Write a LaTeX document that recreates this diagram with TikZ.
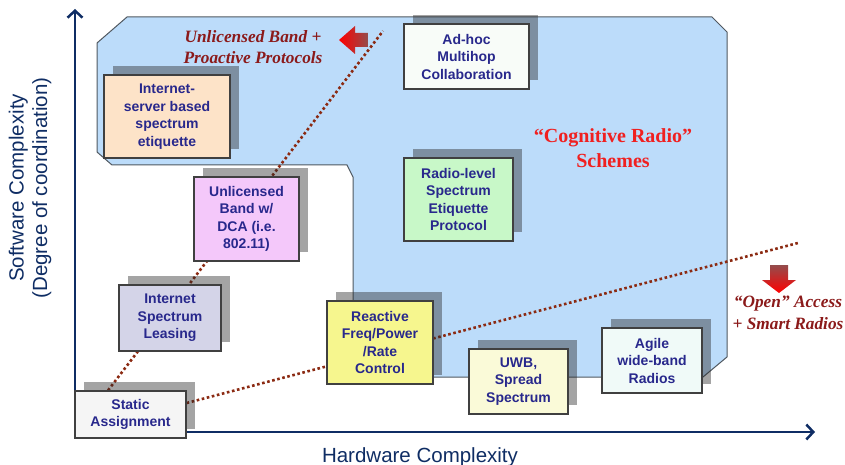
\documentclass[tikz,border=0pt]{standalone}
\usepackage{fontspec}
\setmainfont{Liberation Serif}
\newfontfamily\arial{Liberation Sans}
\usetikzlibrary{arrows.meta,shadows,calc}
\pgfdeclarelayer{bg}
\pgfsetlayers{bg,main}
\definecolor{axisblue}{HTML}{0F2D64}
\definecolor{regionblue}{HTML}{BCDCFA}
\definecolor{regionline}{HTML}{505860}
\definecolor{boxline}{HTML}{404040}
\definecolor{boxtext}{HTML}{28288C}
\definecolor{dotred}{HTML}{8B2A12}
\definecolor{darkred}{HTML}{8B1A1A}
\definecolor{brightred}{HTML}{F02020}
\definecolor{cpeach}{HTML}{FDE3C8}
\definecolor{cpink}{HTML}{F4C8FA}
\definecolor{clav}{HTML}{D4D4E8}
\definecolor{cgray}{HTML}{F5F5F5}
\definecolor{cyellow}{HTML}{F6F68E}
\definecolor{cpaleyellow}{HTML}{FAFAD8}
\definecolor{cmint}{HTML}{F0FAF8}
\definecolor{cwhite}{HTML}{F8FCF8}
\definecolor{cgreen}{HTML}{C8F8C8}
\begin{document}
\begin{tikzpicture}[x=1pt,y=-1pt,
  box/.style={draw=boxline, line width=1.3pt, text=boxtext,
    font=\arial\bfseries\fontsize{14}{17.5}\selectfont, align=center,
    inner sep=0pt,
    drop shadow={shadow xshift=9pt, shadow yshift=9pt, fill=black!85, opacity=0.42}},
  dotline/.style={draw=dotred, line width=2.6pt, dash pattern=on 2.6pt off 2.6pt},
  axis/.style={draw=axisblue, line width=2.5pt, -{Straight Barb[length=7pt,width=15pt]}},
  axislabel/.style={text=axisblue, font=\arial\fontsize{20.5}{23.5}\selectfont, align=center, inner sep=0pt},
  redlabel/.style={text=darkred, font=\bfseries\itshape\fontsize{17.3}{21.5}\selectfont, align=center, inner sep=0pt}
]
\useasboundingbox (0,0) rectangle (845,465);

% boxes
\node[box, fill=cgray, minimum width=111pt, minimum height=47pt] (static) at (130.5,414.5) {Static\\Assignment};
\node[box, fill=cpeach, minimum width=126pt, minimum height=83pt] (isrv) at (167,116.5) {Internet-\\server based\\spectrum\\etiquette};
\node[box, fill=cpink, minimum width=105pt, minimum height=84pt] (dca) at (246.5,219) {Unlicensed\\Band w/\\DCA (i.e.\\802.11)};
\node[box, fill=clav, minimum width=102pt, minimum height=66pt] (isl) at (170,318) {Internet\\Spectrum\\Leasing};
\node[box, fill=cyellow, minimum width=106pt, minimum height=83pt] (react) at (380,342.5) {Reactive\\Freq/Power\\/Rate\\Control};
\node[box, fill=cpaleyellow, minimum width=99pt, minimum height=65pt] (uwb) at (518.5,381.5) {UWB,\\Spread\\Spectrum};
\node[box, fill=cmint, minimum width=100pt, minimum height=65pt] (agile) at (652,360.5) {Agile\\wide-band\\Radios};
\node[box, fill=cwhite, minimum width=125pt, minimum height=65pt] (adhoc) at (466.5,56.5) {Ad-hoc\\Multihop\\Collaboration};
\node[box, fill=cgreen, minimum width=109pt, minimum height=83pt] (radio) at (458.5,199.5) {Radio-level\\Spectrum\\Etiquette\\Protocol};

\coordinate (d1end) at (383,31);
\coordinate (d2end) at (798,243);

\begin{pgfonlayer}{bg}
% cognitive radio region
\fill[regionblue, draw=regionline, line width=1pt]
  (127,17) -- (712,17) -- (727,32) -- (727,357) -- (703,377) -- (353,377)
  -- (353,177) -- (347,165) -- (112,165) -- (97,152) -- (97,43) -- cycle;
% axes
\draw[axis] (75,433) -- (75,9);
\draw[axis] (74,432) -- (815,432);
% dotted connectors
\draw[dotline] ($(static.north west)!0.3!(static.north east)$) -- (d1end);
\draw[dotline] ($(static.east)+(0,-11.5)$) -- (d2end);
\end{pgfonlayer}

\node[axislabel, anchor=base] (xlab) at (420,462) {Hardware Complexity};
\node[axislabel, rotate=90] (ylab) at (30,188) {Software Complexity\\(Degree of coordination)};

% red labels
\node[redlabel] (unl) at (253,47) {Unlicensed Band +\\Proactive Protocols};
\node[redlabel] (open) at (788,313) {\textquotedblleft Open\textquotedblright{} Access\\+ Smart Radios};
\node[text=brightred, font=\bfseries\fontsize{20}{25}\selectfont, align=center, inner sep=0pt] (cog) at (613,148) {\textquotedblleft Cognitive Radio\textquotedblright\\Schemes};

% red block arrows
\shade[left color=red, right color=black!60!red!70]
  (339,40) -- (355,26) -- (355,33) -- (368,33) -- (368,47) -- (355,47) -- (355,54) -- cycle;
\shade[top color=black!60!red!70, bottom color=red]
  (770,265) -- (788,265) -- (788,280) -- (796,280) -- (779,293) -- (762,280) -- (770,280) -- cycle;
\end{tikzpicture}
\end{document}
